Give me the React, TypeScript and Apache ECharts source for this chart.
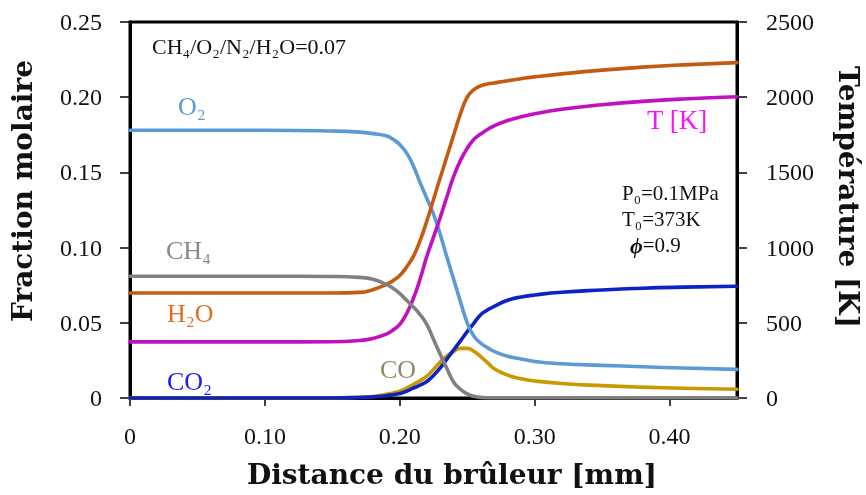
import React, { useEffect, useRef } from "react";
import * as echarts from "echarts";

// Distance from burner [mm]
const distance = [0, 0.05, 0.10, 0.15, 0.17, 0.18, 0.19, 0.195, 0.20, 0.205, 0.21, 0.215, 0.22, 0.225, 0.23, 0.235, 0.24, 0.245, 0.25, 0.255, 0.26, 0.265, 0.27, 0.28, 0.29, 0.30, 0.32, 0.35, 0.38, 0.41, 0.45];

// Mole fractions
const o2 = [0.178, 0.178, 0.178, 0.1775, 0.1768, 0.1758, 0.1743, 0.172, 0.1685, 0.163, 0.1545, 0.1434, 0.1328, 0.1222, 0.1087, 0.0935, 0.0788, 0.0639, 0.05, 0.041, 0.0365, 0.0335, 0.031, 0.0278, 0.026, 0.0243, 0.0228, 0.0217, 0.0208, 0.0199, 0.019];
const ch4 = [0.081, 0.081, 0.081, 0.0808, 0.0802, 0.079, 0.0755, 0.073, 0.0695, 0.065, 0.0605, 0.0555, 0.049, 0.039, 0.029, 0.0195, 0.0105, 0.0058, 0.0028, 0.0011, 0.0004, 0.0001, 0, 0, 0, 0, 0, 0, 0, 0, 0];
const h2o = [0.0698, 0.0698, 0.0698, 0.0698, 0.0702, 0.072, 0.0755, 0.078, 0.0815, 0.087, 0.094, 0.1045, 0.1175, 0.132, 0.1465, 0.1607, 0.175, 0.189, 0.2, 0.205, 0.2075, 0.2087, 0.2095, 0.211, 0.2123, 0.2135, 0.2155, 0.218, 0.22, 0.2215, 0.223];
const co2 = [0, 0, 0, 0, 0.0003, 0.0008, 0.0015, 0.0022, 0.003, 0.0045, 0.0065, 0.0085, 0.011, 0.015, 0.02, 0.026, 0.032, 0.038, 0.0441, 0.0498, 0.0554, 0.0585, 0.061, 0.065, 0.0672, 0.0685, 0.0703, 0.0718, 0.073, 0.0737, 0.0743];
const co = [0, 0, 0, 0, 0.0005, 0.001, 0.0025, 0.0034, 0.0045, 0.0065, 0.009, 0.0115, 0.0145, 0.019, 0.024, 0.028, 0.031, 0.033, 0.033, 0.031, 0.0275, 0.0235, 0.0195, 0.0152, 0.0128, 0.0113, 0.0096, 0.0082, 0.0072, 0.0065, 0.0058];

// Temperature [K]
const temperature = [373, 373, 373, 374, 382, 395, 425, 452, 490, 560, 660, 790, 940, 1070, 1200, 1340, 1475, 1580, 1660, 1720, 1755, 1785, 1810, 1845, 1870, 1890, 1920, 1950, 1972, 1988, 2003];

const SERIF = "Liberation Serif";
const TITLE = "DejaVu Serif";

const pairs = (ys: number[]) => distance.map((x, i) => [x, ys[i]]);

export default function App() {
  const ref = useRef<HTMLDivElement>(null);
  useEffect(() => {
    if (!ref.current) return;
    const chart = echarts.init(ref.current, undefined, { renderer: "svg" });
    const lw = 3.6;
    const line = (name: string, data: number[], color: string, yAxisIndex = 0) => ({
      name,
      type: "line",
      yAxisIndex,
      data: pairs(data),
      showSymbol: false,
      smooth: 0.5,
      lineStyle: { color, width: lw, join: "round", cap: "round" },
      itemStyle: { color },
      z: 3,
    });
    const txt = (text: string, x: number, y: number, fill: string, fontSize = 22, extra: any = {}) => ({
      type: "text",
      x,
      y,
      z: 10,
      style: { text, fill, fontSize, fontFamily: SERIF, textAlign: "left", textVerticalAlign: "middle", ...extra },
    });
    const title = (text: string, x: number, y: number, rotation: number) => ({
      type: "text",
      x,
      y,
      rotation,
      style: { text, fill: "#111", fontSize: 28, fontWeight: "bold", fontFamily: TITLE, textAlign: "center", textVerticalAlign: "middle" },
    });
    chart.setOption({
      animation: false,
      grid: { left: 130, right: 129, top: 22, bottom: 97, show: true, borderColor: "#000", borderWidth: 3 },
      xAxis: {
        type: "value",
        min: 0,
        max: 0.45,
        interval: 0.1,
        axisLine: { show: true, lineStyle: { color: "#000", width: 3 } },
        axisTick: { show: true, length: 8, lineStyle: { color: "#000", width: 1.5 } },
        axisLabel: {
          margin: 26,
          color: "#111",
          fontSize: 24,
          fontFamily: SERIF,
          showMaxLabel: false,
          formatter: (v: number) => (v === 0 ? "0" : v > 0.44 ? "" : v.toFixed(2)),
        },
        splitLine: { show: false },
      },
      yAxis: [
        {
          type: "value",
          min: 0,
          max: 0.25,
          interval: 0.05,
          axisLine: { show: true, lineStyle: { color: "#000", width: 3 } },
          axisTick: { show: true, length: 10, lineStyle: { color: "#000", width: 1.5 } },
          axisLabel: {
            margin: 28,
            color: "#111",
            fontSize: 24,
            fontFamily: SERIF,
            formatter: (v: number) => (v === 0 ? "0" : v.toFixed(2)),
          },
          splitLine: { show: false },
        },
        {
          type: "value",
          min: 0,
          max: 2500,
          interval: 500,
          position: "right",
          axisLine: { show: true, lineStyle: { color: "#000", width: 3 } },
          axisTick: { show: true, length: 10, lineStyle: { color: "#000", width: 1.5 } },
          axisLabel: { margin: 29, color: "#111", fontSize: 24, fontFamily: SERIF, formatter: (v: number) => String(v) },
          splitLine: { show: false },
        },
      ],
      series: [
        line("CO", co, "#c89a00"),
        line("CO2", co2, "#0c22c4"),
        line("O2", o2, "#5b9bd5"),
        line("H2O", h2o, "#c55a11"),
        line("T", temperature, "#c010c0", 1),
        line("CH4", ch4, "#808080"),
      ],
      graphic: [
        title("Fraction molaire", 22, 191, Math.PI / 2),
        title("Température [K]", 848, 197, -Math.PI / 2),
        title("Distance du brûleur [mm]", 452, 474, 0),
        txt("CH₄/O₂/N₂/H₂O=0.07", 152, 46, "#111", 22),
        txt("O₂", 178, 106, "#5b9bd5", 26),
        txt("CH₄", 166, 250, "#888888", 26),
        txt("H₂O", 167, 313, "#e07020", 26),
        txt("CO₂", 167, 381, "#1a1aff", 26),
        txt("CO", 380, 369, "#8f8a64", 26),
        txt("T [K]", 647, 120, "#ff10ff", 27),
        txt("P₀=0.1MPa", 622, 193, "#111", 21),
        txt("T₀=373K", 622, 219, "#111", 21),
        {
          type: "text",
          x: 630,
          y: 245,
          z: 10,
          style: {
            text: "{p|ϕ}=0.9",
            fill: "#111",
            fontSize: 21,
            fontFamily: SERIF,
            textAlign: "left",
            textVerticalAlign: "middle",
            rich: { p: { fontStyle: "italic", fontWeight: "bold", fontSize: 22, fontFamily: SERIF, fill: "#111" } },
          },
        },
      ],
    });
    return () => chart.dispose();
  }, []);
  return <div ref={ref} style={{ position: "fixed", left: 0, top: 0, width: 866, height: 495 }} />;
}
